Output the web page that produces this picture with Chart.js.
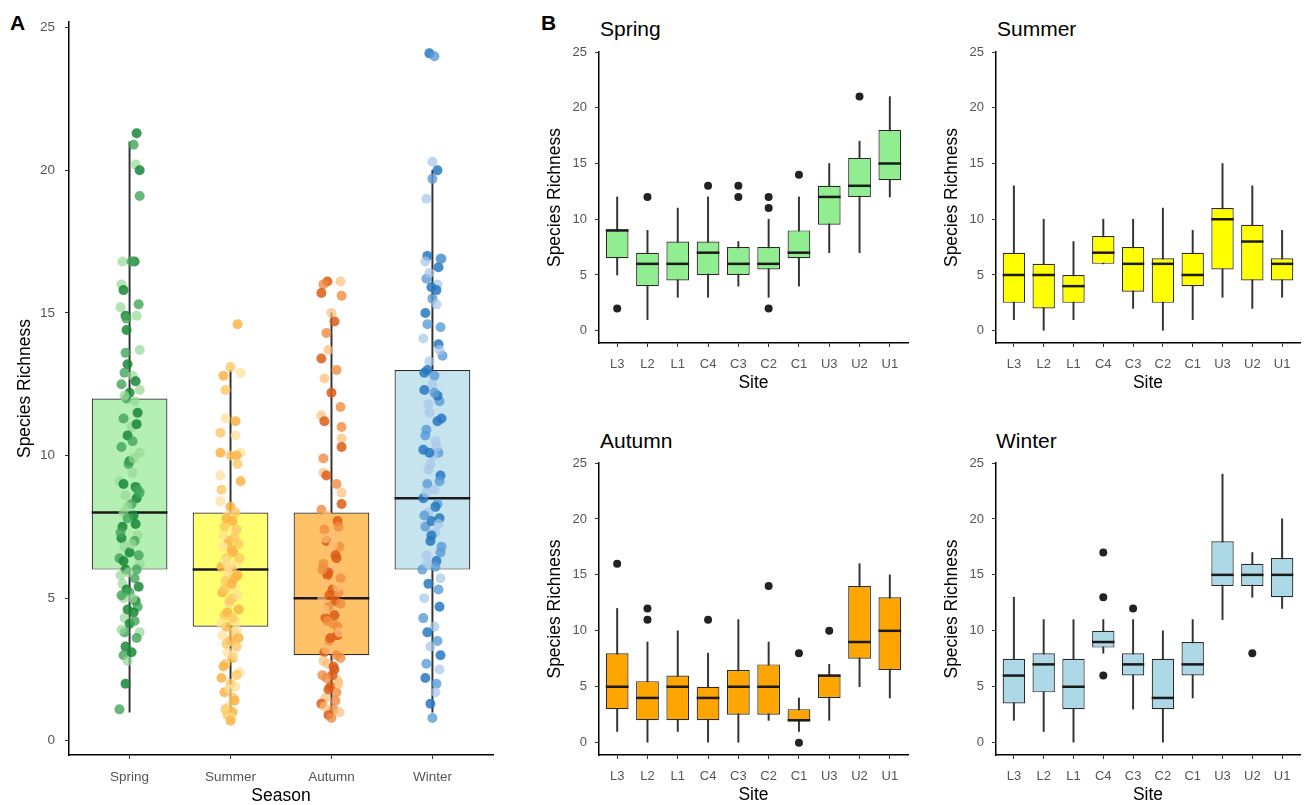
<!DOCTYPE html>
<html>
<head>
<meta charset="utf-8">
<script src="https://cdn.jsdelivr.net/npm/chart.js@4.4.1/dist/chart.umd.min.js"></script>
<style>
  body { margin: 0; background: #fff; }
  #fig { position: relative; width: 1309px; height: 805px; overflow: hidden; font-family: "Liberation Sans", Arial, sans-serif; }
  canvas { position: absolute; }
  .lbl { position: absolute; color: #000; white-space: nowrap; line-height: 1; }
  .panel { font-weight: bold; font-size: 21px; }
  .sub { font-size: 21px; }
</style>
</head>
<body>
<div id="fig">
  <div class="lbl panel" style="left:10px;top:12px;">A</div>
  <div class="lbl panel" style="left:541px;top:12px;">B</div>
  <div class="lbl sub" style="left:600px;top:18px;">Spring</div>
  <div class="lbl sub" style="left:997px;top:18px;">Summer</div>
  <div class="lbl sub" style="left:600px;top:430px;">Autumn</div>
  <div class="lbl sub" style="left:996px;top:430px;">Winter</div>
  <canvas id="cA" width="520" height="805" style="left:0;top:0;"></canvas>
  <canvas id="cSpring" width="390" height="392" style="left:530px;top:0;"></canvas>
  <canvas id="cSummer" width="385" height="392" style="left:927px;top:0;"></canvas>
  <canvas id="cAutumn" width="390" height="404" style="left:530px;top:400px;"></canvas>
  <canvas id="cWinter" width="385" height="404" style="left:927px;top:400px;"></canvas>
</div>
<script>
// categories and ticks
const seasons = ['Spring', 'Summer', 'Autumn', 'Winter'];
const sites = ['L3', 'L2', 'L1', 'C4', 'C3', 'C2', 'C1', 'U3', 'U2', 'U1'];
const yTicks = [0, 5, 10, 15, 20, 25];

// boxes: [min, q1, median, q3, max]
const seasonBoxes = [[1, 6, 8, 12, 21], [1, 4, 6, 8, 13], [1, 3, 5, 8, 15], [1, 6, 8.5, 13, 20]];

// jittered observations per season: [x jitter, richness]
const springPts = [[0.07,21.3],[0.04,20.9],[0.06,20.2],[0.1,20.0],[0.1,19.1],[-0.07,16.8],[0.05,16.8],[0.02,16.8],[-0.08,16.0],[-0.06,15.8],
  [0.09,15.3],[-0.09,15.2],[-0.04,14.9],[-0.03,14.8],[0.07,14.9],[-0.03,14.4],[-0.04,13.6],[0.1,13.7],[-0.02,13.2],[-0.05,12.9],
  [0.03,12.8],[0.06,12.6],[-0.08,12.5],[0.1,12.3],[0.0,12.2],[-0.03,12.0],[0.05,11.9],[0.08,11.5],[-0.06,11.3],[0.02,11.0],
  [-0.02,10.7],[0.03,10.5],[0.1,10.1],[0.0,9.8],[-0.01,9.7],[-0.1,9.1],[0.06,8.9],[0.08,8.8],[-0.04,8.6],[0.07,8.5],
  [0.02,8.3],[-0.06,8.0],[0.04,7.9],[-0.02,7.8],[0.08,7.2],[-0.08,7.1],[0.05,7.0],[-0.05,6.8],[0.0,6.6],[-0.1,6.4],
  [0.1,6.2],[-0.04,6.0],[0.05,5.7],[-0.07,5.5],[-0.03,5.3],[0.0,5.2],[-0.06,5.0],[0.06,4.9],[0.08,4.7],[-0.05,4.3],
  [0.0,4.1],[-0.05,3.8],[0.1,3.8],[-0.04,3.3],[-0.06,3.0],[-0.02,2.8],[-0.04,2.0],[-0.1,1.1],
  [0.03,9.4],[-0.07,7.5],[0.09,6.5],[-0.09,5.8],[0.04,4.5],[0.07,3.6],
  [-0.05,12.1],[0.07,11.1],[-0.08,10.3],[0.04,9.9],[-0.06,9.0],[0.1,8.7],[-0.02,8.2],[0.06,7.6],[-0.09,7.3],[0.02,6.9],
  [-0.06,6.3],[0.07,6.0],[-0.01,5.9],[0.09,5.4],[-0.08,5.1],[0.03,5.0],[-0.02,4.6],[0.05,4.2],[-0.08,3.9],[0.02,3.1]];
const summerPts = [[0.07,14.6],[0.0,13.1],[0.1,12.9],[-0.07,12.8],[-0.05,12.3],[-0.05,11.3],[0.05,11.2],[-0.1,10.8],[0.05,10.7],[-0.1,10.1],
  [0.0,10.0],[0.1,10.1],[0.06,10.0],[0.07,9.7],[-0.1,9.3],[0.1,9.1],[-0.09,8.8],[-0.1,8.4],[0.0,8.2],[0.05,8.0],
  [-0.03,7.9],[0.02,7.7],[-0.06,7.5],[0.04,7.3],[-0.02,7.0],[0.08,6.9],[-0.07,6.8],[0.03,6.6],[-0.04,6.4],[0.06,6.2],
  [-0.09,6.1],[0.01,6.0],[-0.03,5.9],[0.07,5.8],[-0.05,5.6],[0.04,5.4],[-0.08,5.2],[0.02,5.0],[-0.02,4.8],[0.08,4.6],
  [-0.06,4.4],[0.05,4.2],[-0.04,4.0],[0.03,3.8],[-0.08,3.7],[0.0,3.5],[0.06,3.3],[-0.03,3.1],[0.02,2.9],[-0.05,2.7],
  [0.09,2.4],[-0.09,2.2],[0.0,2.0],[0.05,1.9],[-0.06,1.7],[0.03,1.5],[-0.02,1.2],[0.02,1.0],[-0.03,0.9],[0.01,0.8],[0.0,0.7],
  [0.04,7.1],[-0.05,6.3],[0.01,5.5],[-0.01,4.9],[0.06,3.9],
  [-0.04,7.8],[0.06,7.4],[-0.07,7.2],[0.01,6.7],[0.09,6.4],[-0.02,6.1],[0.04,5.7],[-0.06,5.3],[0.07,5.1],[-0.03,4.5],
  [0.02,4.3],[-0.09,4.1],[0.08,3.6],[-0.04,3.4],[0.03,3.0],[-0.07,2.6],[0.06,2.3],[-0.01,1.8],[0.04,1.4],[-0.05,1.1]];
const autumnPts = [[-0.04,16.1],[-0.08,16.0],[0.09,16.1],[-0.1,15.7],[0.1,15.6],[0.0,15.0],[0.03,14.7],[-0.05,14.3],[-0.03,13.7],[-0.1,13.4],
  [0.05,13.0],[-0.07,12.7],[0.0,12.2],[0.09,11.7],[-0.1,11.4],[-0.07,11.2],[0.1,11.0],[0.1,10.6],[0.1,10.3],[-0.08,9.9],
  [-0.08,9.4],[-0.05,9.3],[0.05,9.0],[0.1,8.7],[0.1,8.3],[-0.1,8.1],[-0.04,7.9],[0.06,7.7],[-0.07,7.4],[0.02,7.2],
  [-0.05,7.0],[0.08,6.8],[-0.02,6.6],[0.05,6.4],[-0.08,6.2],[0.03,6.0],[-0.04,5.8],[0.09,5.7],[-0.06,5.5],[0.01,5.3],
  [0.07,5.2],[-0.09,5.0],[0.04,4.9],[-0.03,4.7],[0.08,4.5],[-0.06,4.3],[0.02,4.1],[-0.08,3.9],[0.06,3.7],[-0.02,3.5],
  [0.04,3.3],[-0.07,3.1],[0.09,2.9],[-0.04,2.7],[0.03,2.5],[-0.09,2.3],[0.06,2.1],[-0.01,1.9],[0.05,1.7],[-0.06,1.5],
  [-0.1,1.3],[0.02,1.1],[0.08,1.0],[-0.03,0.9],[0.0,0.8],[0.02,6.9],[-0.03,5.9],[0.06,4.0],[-0.05,3.2],[0.01,2.3],
  [0.07,7.5],[-0.06,7.1],[0.04,6.5],[-0.09,6.0],[0.06,5.4],[-0.02,5.1],[0.09,4.8],[-0.07,4.6],[0.03,4.4],[-0.04,4.2],
  [0.08,3.8],[-0.01,3.6],[0.05,3.0],[-0.08,2.8],[0.02,2.6],[-0.05,2.2],[0.07,2.0],[-0.03,1.8],[0.04,1.4],[-0.07,1.2]];
const winterPts = [[-0.03,24.1],[0.02,24.0],[0.0,20.3],[0.05,20.0],[0.0,19.7],[-0.06,19.0],[-0.05,17.0],[0.08,16.9],[-0.07,16.8],[0.06,16.6],
  [-0.06,16.2],[0.05,16.0],[-0.01,15.9],[0.0,15.5],[0.04,15.3],[-0.07,15.0],[0.08,14.5],[-0.09,14.1],[0.06,13.9],[0.1,13.5],
  [-0.03,13.3],[-0.05,13.0],[0.02,12.8],[0.0,12.5],[-0.08,12.3],[0.07,11.9],[-0.03,11.5],[0.05,11.2],[-0.06,10.9],[0.03,10.5],
  [-0.09,10.2],[0.06,10.1],[-0.02,9.7],[0.08,9.3],[-0.05,9.0],[0.02,8.8],[-0.09,8.5],[0.05,8.3],[-0.04,8.0],[0.07,7.8],
  [-0.07,7.5],[0.03,7.3],[-0.02,7.0],[0.09,6.8],[-0.06,6.5],[0.04,6.3],[-0.1,6.0],[0.08,5.7],[-0.04,5.5],[0.06,5.3],
  [-0.08,5.0],[0.07,4.7],[-0.09,4.3],[0.02,4.0],[-0.05,3.8],[0.05,3.5],[-0.02,3.3],[0.08,3.0],[-0.06,2.7],[0.07,2.5],
  [-0.07,2.2],[0.04,2.0],[0.03,1.7],[-0.02,1.3],[0.0,0.8],[0.01,10.0],[-0.01,7.7],[0.03,6.1],[-0.04,9.5],[0.05,12.1],
  [0.09,16.9],[-0.03,16.4],[0.04,15.8],[-0.05,14.6],[0.07,13.7],[-0.08,12.9],[0.02,12.2],[-0.04,11.8],[0.09,11.3],[-0.07,10.7],
  [0.04,10.3],[-0.03,10.1],[0.07,9.1],[-0.06,8.7],[0.03,8.2],[-0.08,7.9],[0.06,7.6],[-0.01,7.2],[0.08,6.6],[-0.05,6.2]];

// per-site boxes per season: [min, q1, median, q3, max]
const springSites = [[5,6.5,9,9,12],[1,4,6,7,9],[3,4.5,6,8,11],[3,5,7,8,12],[4,5,6,7.5,8],
  [3,5.5,6,7.5,10],[4,6.5,7,9,12],[7,9.5,12,13,15],[7,12,13,15.5,17],[12,13.5,15,18,21]];
const summerSites = [[1,2.5,5,7,13],[0,2,5,6,10],[1,2.5,4,5,8],[6,6,7,8.5,10],[2,3.5,6,7.5,10],
  [0,2.5,6,6.5,11],[1,4,5,7,9],[3,5.5,10,11,15],[2,4.5,8,9.5,13],[3,4.5,6,6.5,9]];
const autumnSites = [[1,3,5,8,12],[0,2,4,5.5,9],[1,2,5,6,10],[0,2,4,5,8],[0,2.5,5,6.5,11],
  [2,2.5,5,7,9],[1,2,2,3,4],[2,4,6,6,7],[5,7.5,9,14,16],[4,6.5,10,13,15]];
const winterSites = [[2,3.5,6,7.5,13],[1,4.5,7,8,11],[0,3,5,7.5,11],[8,8.5,9,10,11],[3,6,7,8,11],
  [0,3,4,7.5,10],[4,6,7,9,11],[11,14,15,18,24],[13,14,15,16,17],[12,13,15,16.5,20]];

// outliers: [site index, richness]
const springOut = [[0,2],[1,12],[3,13],[4,12],[4,13],[5,11],[5,12],[5,2],[6,14],[8,21]];
const summerOut = [];
const autumnOut = [[0,16],[1,11],[1,12],[3,11],[5,14],[6,8],[6,0],[7,10]];
const winterOut = [[3,17],[3,13],[3,6],[4,12],[8,8]];

const tickGrey = '#555';
const FONT = '"Liberation Sans", Arial, sans-serif';

const medianLine = {
  id: 'medianLine',
  afterDatasetDraw(chart, args) {
    const ds = chart.data.datasets[args.index];
    if (!ds.medians) return;
    const ctx = chart.ctx;
    const ys = chart.scales.y;
    ctx.save();
    ctx.strokeStyle = '#1a1a1a';
    ctx.lineWidth = ds.medianWidth;
    args.meta.data.forEach((bar, i) => {
      const p = bar.getProps(['x', 'width'], true);
      const py = ys.getPixelForValue(ds.medians[i]);
      ctx.beginPath();
      ctx.moveTo(p.x - p.width / 2, py);
      ctx.lineTo(p.x + p.width / 2, py);
      ctx.stroke();
    });
    ctx.restore();
  }
};

function axisStyle(o) {
  return {
    grid: { display: true, offset: false, drawOnChartArea: false, drawTicks: true, tickLength: 4, color: '#333', lineWidth: 1 },
    border: { display: true, color: '#000', width: 1.5 },
    ticks: { color: tickGrey, font: { family: FONT, size: o.tickSize }, padding: o.pad, autoSkip: false, maxRotation: 0 },
    title: { display: true, text: o.title, color: '#000', font: { family: FONT, size: 17.5, lineHeight: 1 }, padding: o.titlePad }
  };
}

function boxChart(id, s) {
  const cats = s.cats;
  const boxes = s.boxes;
  const xs = axisStyle({ tickSize: s.tickSize, pad: s.xPad, title: s.xTitle, titlePad: { top: 0, bottom: 0 } });
  xs.type = 'linear';
  xs.min = -0.6;
  xs.max = cats.length - 0.4;
  xs.offset = false;
  xs.afterBuildTicks = sc => { sc.ticks = cats.map((c, i) => ({ value: i })); };
  xs.afterFit = sc => { sc.height = s.xAxisHeight; };
  xs.ticks.callback = v => cats[v];
  const ysc = axisStyle({ tickSize: s.tickSize, pad: s.yPad, title: 'Species Richness', titlePad: { top: 4, bottom: 4 } });
  ysc.type = 'linear';
  ysc.min = s.yMin;
  ysc.max = s.yMax;
  ysc.afterBuildTicks = sc => { sc.ticks = yTicks.map(v => ({ value: v })); };
  ysc.afterFit = sc => { sc.width = s.yAxisWidth; };

  return new Chart(document.getElementById(id), {
    type: 'bar',
    data: {
      datasets: [
        {
          type: 'scatter',
          data: s.points,
          pointRadius: s.pointRadius,
          pointBackgroundColor: s.pointColors,
          pointBorderWidth: 0
        },
        {
          type: 'bar',
          data: boxes.map((b, i) => ({ x: i, y: [b[1], b[3]] })),
          medians: boxes.map(b => b[2]),
          medianWidth: s.medianWidth,
          backgroundColor: s.boxFill,
          borderColor: '#2a2a2a',
          borderWidth: 1.2,
          borderSkipped: false,
          grouped: false,
          barPercentage: 0.75,
          categoryPercentage: 1
        },
        {
          type: 'bar',
          data: boxes.map((b, i) => ({ x: i, y: [b[0], b[4]] })),
          backgroundColor: '#333',
          borderWidth: 0,
          grouped: false,
          barThickness: 1.3
        }
      ]
    },
    options: {
      responsive: false,
      animation: false,
      events: [],
      layout: { padding: s.padding },
      plugins: { legend: { display: false }, tooltip: { enabled: false } },
      scales: { x: xs, y: ysc }
    },
    plugins: [medianLine]
  });
}

// panel A: jittered points coloured in three shades per season
const shadeA = [
  ['rgba(25,135,55,0.85)', 'rgba(65,165,90,0.8)', 'rgba(150,215,150,0.7)'],
  ['rgba(250,180,70,0.85)', 'rgba(253,200,100,0.8)', 'rgba(254,222,150,0.7)'],
  ['rgba(220,92,22,0.85)', 'rgba(240,140,65,0.8)', 'rgba(252,190,120,0.7)'],
  ['rgba(40,120,192,0.85)', 'rgba(90,155,215,0.8)', 'rgba(165,198,232,0.7)']
];
const allPts = [springPts, summerPts, autumnPts, winterPts];
const ptsA = [];
const colA = [];
allPts.forEach((list, s) => {
  list.forEach((p, i) => {
    ptsA.push({ x: s + p[0], y: p[1] });
    colA.push(shadeA[s][i % 3]);
  });
});

boxChart('cA', {
  cats: seasons, boxes: seasonBoxes, points: ptsA, pointColors: colA, pointRadius: 5,
  boxFill: ['#b4f0b4', '#ffff70', '#ffc266', '#c6e4ee'],
  tickSize: 13.5, xPad: 9.9, yPad: 10, xTitle: 'Season',
  xAxisHeight: 50, yAxisWidth: 57,
  yMin: -0.5, yMax: 25.2, medianWidth: 2.5,
  padding: { left: 12, top: 22, right: 27, bottom: 0 }
});

const subplots = [
  { id: 'cSpring', boxes: springSites, out: springOut, fill: '#90ee90', top: 52, xh: 49 },
  { id: 'cSummer', boxes: summerSites, out: summerOut, fill: '#ffff00', top: 52, xh: 49 },
  { id: 'cAutumn', boxes: autumnSites, out: autumnOut, fill: '#ffa500', top: 63, xh: 49 },
  { id: 'cWinter', boxes: winterSites, out: winterOut, fill: '#add8e6', top: 63, xh: 49 }
];
subplots.forEach(p => {
  boxChart(p.id, {
    cats: sites, boxes: p.boxes,
    points: p.out.map(o => ({ x: o[0], y: o[1] })),
    pointColors: '#222', pointRadius: 4,
    boxFill: p.fill,
    tickSize: 13, xPad: 9.2, yPad: 8, xTitle: 'Site',
    xAxisHeight: p.xh, yAxisWidth: 57,
    yMin: -1.1, yMax: 25, medianWidth: 2.5,
    padding: { left: 12, top: p.top, right: 12, bottom: 0 }
  });
});
</script>
</body>
</html>
